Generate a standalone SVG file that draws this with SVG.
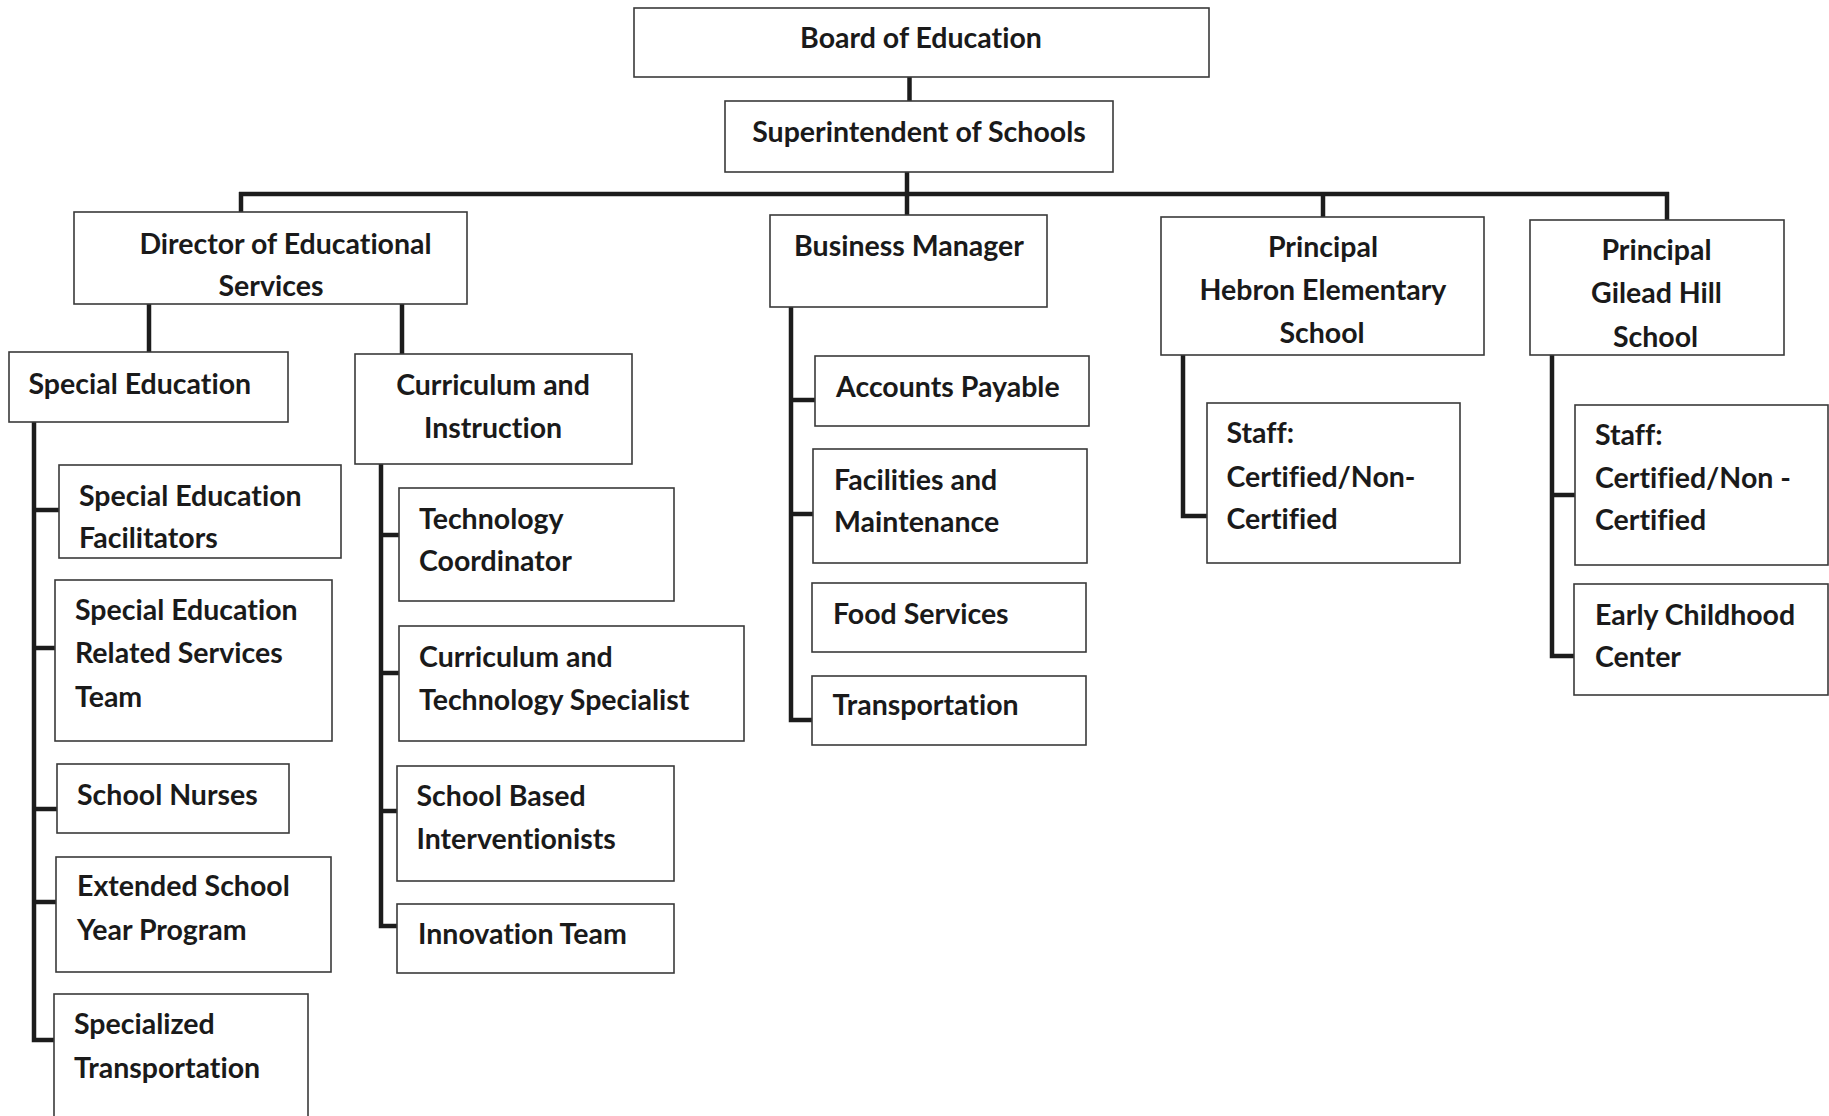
<svg xmlns="http://www.w3.org/2000/svg" width="1829" height="1116" viewBox="0 0 1829 1116">
<style>
.box{fill:#fff;stroke:#3a3a3a;stroke-width:1.6}
.t{font-family:Lato,"Open Sans","Liberation Sans",sans-serif;font-weight:bold;font-size:28.5px;fill:#1a1a1a;font-variant-ligatures:none;font-feature-settings:"liga" 0}
.c{text-anchor:middle}
.conn{fill:none;stroke:#1c1c1c;stroke-width:4.5;stroke-linejoin:miter;stroke-linecap:butt}
</style>
<rect width="1829" height="1116" fill="#fff"/>
<g id="connectors" class="conn">
<path d="M909.5 77 V101"/>
<path d="M907 172 V215"/>
<path d="M239 194 H1669"/>
<path d="M241 192 V212"/>
<path d="M1323 194 V217"/>
<path d="M1667 192 V220"/>
<path d="M149 304 V352"/>
<path d="M402 304 V354"/>
<path d="M34 422 V1040 H54"/>
<path d="M34 510 H59"/>
<path d="M34 648 H55"/>
<path d="M34 809 H57"/>
<path d="M34 902 H56"/>
<path d="M381 464 V926 H397"/>
<path d="M381 535 H399"/>
<path d="M381 673 H399"/>
<path d="M381 811 H397"/>
<path d="M791 307 V720 H812"/>
<path d="M791 400 H815"/>
<path d="M791 514 H813"/>
<path d="M1183 355 V516 H1207"/>
<path d="M1552 355 V656 H1574"/>
<path d="M1552 495 H1575"/>
</g>
<g id="board">
<rect class="box" x="634" y="8" width="575" height="69"/>
<text class="t c" x="921" y="47.5">Board of Education</text>
</g>
<g id="superintendent">
<rect class="box" x="725" y="101" width="388" height="71"/>
<text class="t c" x="919" y="141.5">Superintendent of Schools</text>
</g>
<g id="director">
<rect class="box" x="74" y="212" width="393" height="92"/>
<text class="t c" x="285.5" y="253.5">Director of Educational</text>
<text class="t c" x="271" y="295.5">Services</text>
</g>
<g id="business-manager">
<rect class="box" x="770" y="215" width="277" height="92"/>
<text class="t c" x="909" y="255.5">Business Manager</text>
</g>
<g id="principal-hebron">
<rect class="box" x="1161" y="217" width="323" height="138"/>
<text class="t c" x="1323" y="256.5">Principal</text>
<text class="t c" x="1323" y="299.5">Hebron Elementary</text>
<text class="t c" x="1322" y="342.5">School</text>
</g>
<g id="principal-gilead">
<rect class="box" x="1530" y="220" width="254" height="135"/>
<text class="t c" x="1656.5" y="259.5">Principal</text>
<text class="t c" x="1656.5" y="302.5">Gilead Hill</text>
<text class="t c" x="1655.5" y="346.5">School</text>
</g>
<g id="special-education">
<rect class="box" x="9" y="352" width="279" height="70"/>
<text class="t" x="28.5" y="393.5">Special Education</text>
</g>
<g id="curriculum-instruction">
<rect class="box" x="355" y="354" width="277" height="110"/>
<text class="t c" x="493" y="394.5">Curriculum and</text>
<text class="t c" x="493" y="437.5">Instruction</text>
</g>
<g id="sped-facilitators">
<rect class="box" x="59" y="465" width="282" height="93"/>
<text class="t" x="79" y="505.5">Special Education</text>
<text class="t" x="79" y="547.5">Facilitators</text>
</g>
<g id="sped-related-services">
<rect class="box" x="55" y="580" width="277" height="161"/>
<text class="t" x="75" y="619.5">Special Education</text>
<text class="t" x="75" y="662.5">Related Services</text>
<text class="t" x="75" y="706.5">Team</text>
</g>
<g id="school-nurses">
<rect class="box" x="57" y="764" width="232" height="69"/>
<text class="t" x="77" y="804.5">School Nurses</text>
</g>
<g id="extended-school-year">
<rect class="box" x="56" y="857" width="275" height="115"/>
<text class="t" x="77" y="896">Extended School</text>
<text class="t" x="77" y="939.5">Year Program</text>
</g>
<g id="specialized-transportation">
<rect class="box" x="54" y="994" width="254" height="140"/>
<text class="t" x="74" y="1034">Specialized</text>
<text class="t" x="74" y="1078">Transportation</text>
</g>
<g id="technology-coordinator">
<rect class="box" x="399" y="488" width="275" height="113"/>
<text class="t" x="419" y="528.5">Technology</text>
<text class="t" x="419" y="570.5">Coordinator</text>
</g>
<g id="curriculum-technology-specialist">
<rect class="box" x="399" y="626" width="345" height="115"/>
<text class="t" x="419" y="666.5">Curriculum and</text>
<text class="t" x="419" y="709.5">Technology Specialist</text>
</g>
<g id="school-based-interventionists">
<rect class="box" x="397" y="766" width="277" height="115"/>
<text class="t" x="416.5" y="805.5">School Based</text>
<text class="t" x="416.5" y="848.5">Interventionists</text>
</g>
<g id="innovation-team">
<rect class="box" x="397" y="904" width="277" height="69"/>
<text class="t" x="418" y="943.5">Innovation Team</text>
</g>
<g id="accounts-payable">
<rect class="box" x="815" y="356" width="274" height="70"/>
<text class="t" x="836" y="396.5">Accounts Payable</text>
</g>
<g id="facilities-maintenance">
<rect class="box" x="813" y="449" width="274" height="114"/>
<text class="t" x="834" y="489.5">Facilities and</text>
<text class="t" x="834" y="531.5">Maintenance</text>
</g>
<g id="food-services">
<rect class="box" x="812" y="583" width="274" height="69"/>
<text class="t" x="833" y="623.5">Food Services</text>
</g>
<g id="transportation">
<rect class="box" x="812" y="676" width="274" height="69"/>
<text class="t" x="832.5" y="715">Transportation</text>
</g>
<g id="hebron-staff">
<rect class="box" x="1207" y="403" width="253" height="160"/>
<text class="t" x="1226.5" y="442.5">Staff:</text>
<text class="t" x="1226.5" y="486.5">Certified/Non-</text>
<text class="t" x="1226.5" y="528.5">Certified</text>
</g>
<g id="gilead-staff">
<rect class="box" x="1575" y="405" width="253" height="160"/>
<text class="t" x="1595" y="444.5">Staff:</text>
<text class="t" x="1595" y="487.5">Certified/Non -</text>
<text class="t" x="1595" y="529.5">Certified</text>
</g>
<g id="early-childhood">
<rect class="box" x="1574" y="584" width="254" height="111"/>
<text class="t" x="1595" y="624.5">Early Childhood</text>
<text class="t" x="1595" y="666.5">Center</text>
</g>
</svg>
